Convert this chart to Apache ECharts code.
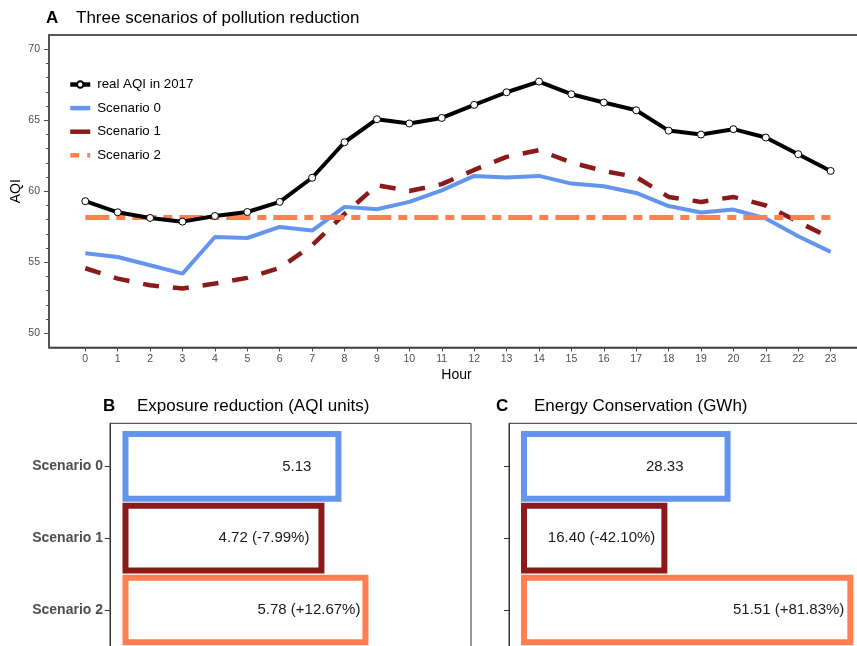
<!DOCTYPE html>
<html>
<head>
<meta charset="utf-8">
<script src="https://cdn.jsdelivr.net/npm/echarts@6/dist/echarts.min.js"></script>
<style>
  html, body { margin: 0; padding: 0; background: #fff; }
  #main { width: 857px; height: 646px; }
</style>
</head>
<body>
<div id="main"></div>
<script>
// panel A: hourly AQI
var hours = [0, 1, 2, 3, 4, 5, 6, 7, 8, 9, 10, 11, 12, 13, 14, 15, 16, 17, 18, 19, 20, 21, 22, 23];
var realAQI = [59.30, 58.52, 58.12, 57.86, 58.26, 58.54, 59.25, 60.95, 63.45, 65.07, 64.77, 65.16,
               66.08, 66.97, 67.72, 66.83, 66.25, 65.70, 64.27, 63.99, 64.37, 63.78, 62.61, 61.43];
var scenario0 = [55.63, 55.37, 54.79, 54.20, 56.78, 56.71, 57.49, 57.23, 58.90, 58.73, 59.25, 60.06,
                 61.08, 60.96, 61.08, 60.54, 60.35, 59.88, 58.96, 58.50, 58.71, 58.08, 56.83, 55.73];
var scenario1 = [54.58, 53.85, 53.38, 53.15, 53.50, 53.90, 54.60, 56.20, 58.40, 60.42, 60.02, 60.50,
                 61.50, 62.42, 62.89, 62.02, 61.43, 61.00, 59.60, 59.25, 59.60, 59.00, 57.84, 56.71];
var scenario2 = [58.15, 58.15, 58.15, 58.15, 58.15, 58.15, 58.15, 58.15, 58.15, 58.15, 58.15, 58.15,
                 58.15, 58.15, 58.15, 58.15, 58.15, 58.15, 58.15, 58.15, 58.15, 58.15, 58.15, 58.15];
var yTicks = [50, 55, 60, 65, 70];
var yMinorTicks = [50, 51, 52, 53, 54, 55, 56, 57, 58, 59, 60, 61, 62, 63, 64, 65, 66, 67, 68, 69, 70];

// panels B and C
var scenarioNames = ['Scenario 0', 'Scenario 1', 'Scenario 2'];
var exposureReduction = [5.13, 4.72, 5.78];
var exposureChange = [null, -7.99, 12.67];
var energyConservation = [28.33, 16.40, 51.51];
var energyChange = [null, -42.10, 81.83];

var colors = ['#6495ED', '#8B1A1A', '#FF7F50'];
var FONT = '"Liberation Sans", Arial, sans-serif';
var GREY = '#4D4D4D';

function pairs(xs, ys) {
    return xs.map(function (x, i) { return [x, ys[i]]; });
}

function makeLabel(v, pct) {
    if (pct === null) return v.toFixed(2);
    return v.toFixed(2) + ' (' + (pct > 0 ? '+' : '') + pct.toFixed(2) + '%)';
}

// outlined bars, drawn from origin to value on the panel's x scale
function outlinedBars(origin, labels, insets) {
    return function (params, api) {
        var i = params.dataIndex;
        var p0 = api.coord([origin, api.value(1)]);
        var p1 = api.coord([api.value(0), api.value(1)]);
        var h = api.size([0, 0.9])[1];
        return {
            type: 'group',
            children: [{
                type: 'rect',
                shape: { x: p0[0], y: p0[1] - h / 2, width: p1[0] - p0[0], height: h },
                style: { fill: '#fff', stroke: colors[i], lineWidth: 6 }
            }, {
                type: 'text',
                style: {
                    text: labels[i], x: p1[0] - insets[i], y: p0[1],
                    align: 'right', verticalAlign: 'middle',
                    fill: '#1a1a1a', fontSize: 15, fontFamily: FONT
                }
            }]
        };
    };
}

// legend entries for the scenarios: line only, no marker
var noMarker = { color: 'transparent', borderWidth: 0 };

var myChart = echarts.init(document.getElementById('main'));
myChart.setOption({
    animation: false,
    textStyle: { fontFamily: FONT },
    title: [
        { text: 'A', left: 46, top: 10, padding: 0, textStyle: { fontSize: 17, fontWeight: 'bold', color: '#000' } },
        { text: 'Three scenarios of pollution reduction', left: 76, top: 10, padding: 0, textStyle: { fontSize: 17, fontWeight: 'normal', color: '#000' } },
        { text: 'B', left: 103, top: 398, padding: 0, textStyle: { fontSize: 17, fontWeight: 'bold', color: '#000' } },
        { text: 'Exposure reduction (AQI units)', left: 137, top: 398, padding: 0, textStyle: { fontSize: 17, fontWeight: 'normal', color: '#000' } },
        { text: 'C', left: 496, top: 398, padding: 0, textStyle: { fontSize: 17, fontWeight: 'bold', color: '#000' } },
        { text: 'Energy Conservation (GWh)', left: 534, top: 398, padding: 0, textStyle: { fontSize: 17, fontWeight: 'normal', color: '#000' } }
    ],
    legend: {
        orient: 'vertical',
        left: 68,
        top: 78,
        padding: 0,
        itemWidth: 20,
        itemHeight: 8,
        itemGap: 10.6,
        lineStyle: { width: 4.5 },
        textStyle: { fontSize: 13.3, color: '#000', padding: [0, 0, 0, 2] },
        data: [
            { name: 'real AQI in 2017' },
            { name: 'Scenario 0', itemStyle: noMarker },
            { name: 'Scenario 1', itemStyle: noMarker, lineStyle: { type: 'solid' } },
            { name: 'Scenario 2', itemStyle: noMarker, lineStyle: { type: [9, 8, 3, 100] } }
        ]
    },
    grid: [
        { left: 49, top: 35, width: 815, height: 312.5, show: true, borderColor: '#222', borderWidth: 1.3, outerBoundsMode: 'none' },
        { left: 110, top: 423.3, width: 361, height: 229.7, show: true, borderColor: '#333', borderWidth: 1, outerBoundsMode: 'none' },
        { left: 509, top: 423.3, width: 355, height: 229.7, show: true, borderColor: '#333', borderWidth: 1, outerBoundsMode: 'none' }
    ],
    xAxis: [
        {
            gridIndex: 0, type: 'value', min: -1.12, max: 24.03,
            name: 'Hour', nameLocation: 'middle', nameGap: 21,
            nameTextStyle: { fontSize: 14, color: '#000' },
            axisLine: { onZero: false, lineStyle: { color: GREY, width: 1.6 } },
            axisTick: { customValues: hours, length: 4, lineStyle: { color: GREY } },
            axisLabel: { customValues: hours, margin: 6.5, fontSize: 10.5, color: GREY },
            splitLine: { show: false }
        },
        { gridIndex: 1, type: 'value', min: -0.3734, max: 8.3233, show: false },
        { gridIndex: 2, type: 'value', min: -12.93, max: 54.09, show: false }
    ],
    yAxis: [
        {
            gridIndex: 0, type: 'value', min: 49, max: 71,
            name: 'AQI', nameLocation: 'middle', nameGap: 25.5, nameMoveOverlap: false,
            nameTextStyle: { fontSize: 14, color: '#000' },
            axisLine: { show: true, onZero: false, lineStyle: { color: GREY, width: 1.6 } },
            axisTick: { customValues: yTicks, length: 5, lineStyle: { color: GREY } },
            axisLabel: { customValues: yTicks, margin: 9, fontSize: 10.5, color: GREY },
            splitLine: { show: false }
        },
        {
            // minor ticks every AQI unit
            gridIndex: 0, type: 'value', min: 49, max: 71, position: 'left',
            axisLine: { show: false, onZero: false },
            axisTick: { show: true, customValues: yMinorTicks, length: 3, lineStyle: { color: GREY } },
            axisLabel: { show: false },
            splitLine: { show: false }
        },
        {
            gridIndex: 1, type: 'value', min: -0.6, max: 2.6, inverse: true,
            axisLine: { show: true, onZero: false, lineStyle: { color: '#333', width: 1 } },
            axisTick: { customValues: [0, 1, 2], length: 5, lineStyle: { color: '#333' } },
            axisLabel: {
                customValues: [0, 1, 2], margin: 7, fontSize: 14, fontWeight: 'bold', color: GREY,
                formatter: function (v) { return scenarioNames[v]; }
            },
            splitLine: { show: false }
        },
        {
            gridIndex: 2, type: 'value', min: -0.6, max: 2.6, inverse: true,
            axisLine: { show: true, onZero: false, lineStyle: { color: '#333', width: 1 } },
            axisTick: { customValues: [0, 1, 2], length: 5, lineStyle: { color: '#333' } },
            axisLabel: { show: false },
            splitLine: { show: false }
        }
    ],
    series: [
        {
            name: 'real AQI in 2017', type: 'line', xAxisIndex: 0, yAxisIndex: 0,
            data: pairs(hours, realAQI),
            symbol: 'circle', symbolSize: 7, showSymbol: true,
            lineStyle: { color: '#000', width: 4 },
            itemStyle: { color: '#fff', borderColor: '#000', borderWidth: 1 },
            z: 5
        },
        {
            name: 'Scenario 0', type: 'line', xAxisIndex: 0, yAxisIndex: 0,
            data: pairs(hours, scenario0), symbol: 'none',
            lineStyle: { color: colors[0], width: 4 },
            itemStyle: { color: colors[0] }
        },
        {
            name: 'Scenario 1', type: 'line', xAxisIndex: 0, yAxisIndex: 0,
            data: pairs(hours, scenario1), symbol: 'none',
            lineStyle: { color: colors[1], width: 4.5, type: [16, 14] },
            itemStyle: { color: colors[1] }
        },
        {
            name: 'Scenario 2', type: 'line', xAxisIndex: 0, yAxisIndex: 0,
            data: pairs(hours, scenario2), symbol: 'none',
            lineStyle: { color: colors[2], width: 5, type: [24, 7, 9, 7] },
            itemStyle: { color: colors[2] }
        },
        {
            type: 'custom', xAxisIndex: 1, yAxisIndex: 2,
            data: pairs(exposureReduction, [0, 1, 2]),
            encode: { x: 0, y: 1 },
            renderItem: outlinedBars(0, exposureReduction.map(function (v, i) { return makeLabel(v, exposureChange[i]); }), [27, 12, 5])
        },
        {
            type: 'custom', xAxisIndex: 2, yAxisIndex: 3,
            data: pairs(energyConservation, [0, 1, 2]),
            encode: { x: 0, y: 1 },
            renderItem: outlinedBars(-10.1, energyConservation.map(function (v, i) { return makeLabel(v, energyChange[i]); }), [44, 9, 6])
        }
    ]
});
</script>
</body>
</html>
